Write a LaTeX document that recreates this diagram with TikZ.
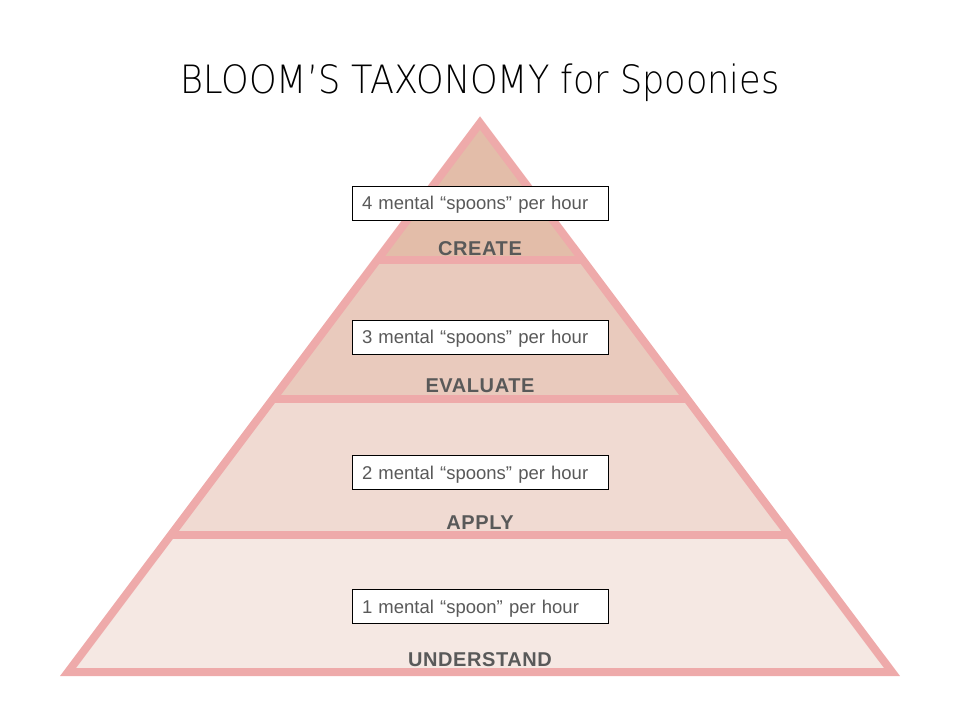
\documentclass[tikz,border=0pt]{standalone}
\usepackage{fontspec}
\setmainfont{Liberation Sans}
\newfontfamily\titlefont{DejaVuSans-ExtraLight.ttf}[FakeStretch=0.9]
\newfontfamily\levelfont{Liberation Sans Bold}[LetterSpace=3]
\definecolor{edgepink}{HTML}{EEAAAA}
\definecolor{fcreate}{HTML}{E3BDA9}
\definecolor{feval}{HTML}{E9CABD}
\definecolor{fapply}{HTML}{F0DAD2}
\definecolor{funder}{HTML}{F5E8E3}
\definecolor{txtgray}{HTML}{595959}
\tikzset{
  edgeline/.style={draw=edgepink,line width=8pt,line join=miter},
  spoonbox/.style={draw=black,line width=0.9pt,fill=white,minimum width=256pt,minimum height=34pt,text width=236pt,text height=15pt,text depth=2pt,align=left,inner xsep=10pt,inner ysep=0pt,text=txtgray,font=\fontsize{18.5}{20}\selectfont},
  levellabel/.style={anchor=base,text=txtgray,font=\levelfont\fontsize{20}{22}\selectfont,inner sep=0pt},
}
\begin{document}
\begin{tikzpicture}[x=1pt,y=-1pt]
\useasboundingbox (0,0) rectangle (960,720);
% coordinates
\coordinate (apex) at (480,123);
\coordinate (l1) at (377.1,260); \coordinate (r1) at (582.9,260);
\coordinate (l2) at (272.7,399); \coordinate (r2) at (687.3,399);
\coordinate (l3) at (170.6,535); \coordinate (r3) at (789.4,535);
\coordinate (l4) at (68,672);   \coordinate (r4) at (892,672);
% fills
\fill[fcreate] (apex) -- (r1) -- (l1) -- cycle;
\fill[feval] (l1) -- (r1) -- (r2) -- (l2) -- cycle;
\fill[fapply] (l2) -- (r2) -- (r3) -- (l3) -- cycle;
\fill[funder] (l3) -- (r3) -- (r4) -- (l4) -- cycle;
% separators and outline
\draw[edgeline] (l1) -- (r1);
\draw[edgeline] (l2) -- (r2);
\draw[edgeline] (l3) -- (r3);
\draw[edgeline] (apex) -- (r4) -- (l4) -- cycle;
% title
\node[anchor=base,inner sep=0pt,font=\titlefont\fontsize{39}{43}\selectfont] (title) at (480,93) {BLOOM’S TAXONOMY for Spoonies};
% boxes
\node[spoonbox] (b4) at (480,203) {4 mental “spoons” per hour};
\node[spoonbox] (b3) at (480,337) {3 mental “spoons” per hour};
\node[spoonbox] (b2) at (480,472.5) {2 mental “spoons” per hour};
\node[spoonbox] (b1) at (480,606.5) {1 mental “spoon” per hour};
% level labels
\node[levellabel] (create) at (480,255) {CREATE};
\node[levellabel] (evaluate) at (480,392) {EVALUATE};
\node[levellabel] (apply) at (480,529) {APPLY};
\node[levellabel] (understand) at (480,666) {UNDERSTAND};
\end{tikzpicture}
\end{document}
